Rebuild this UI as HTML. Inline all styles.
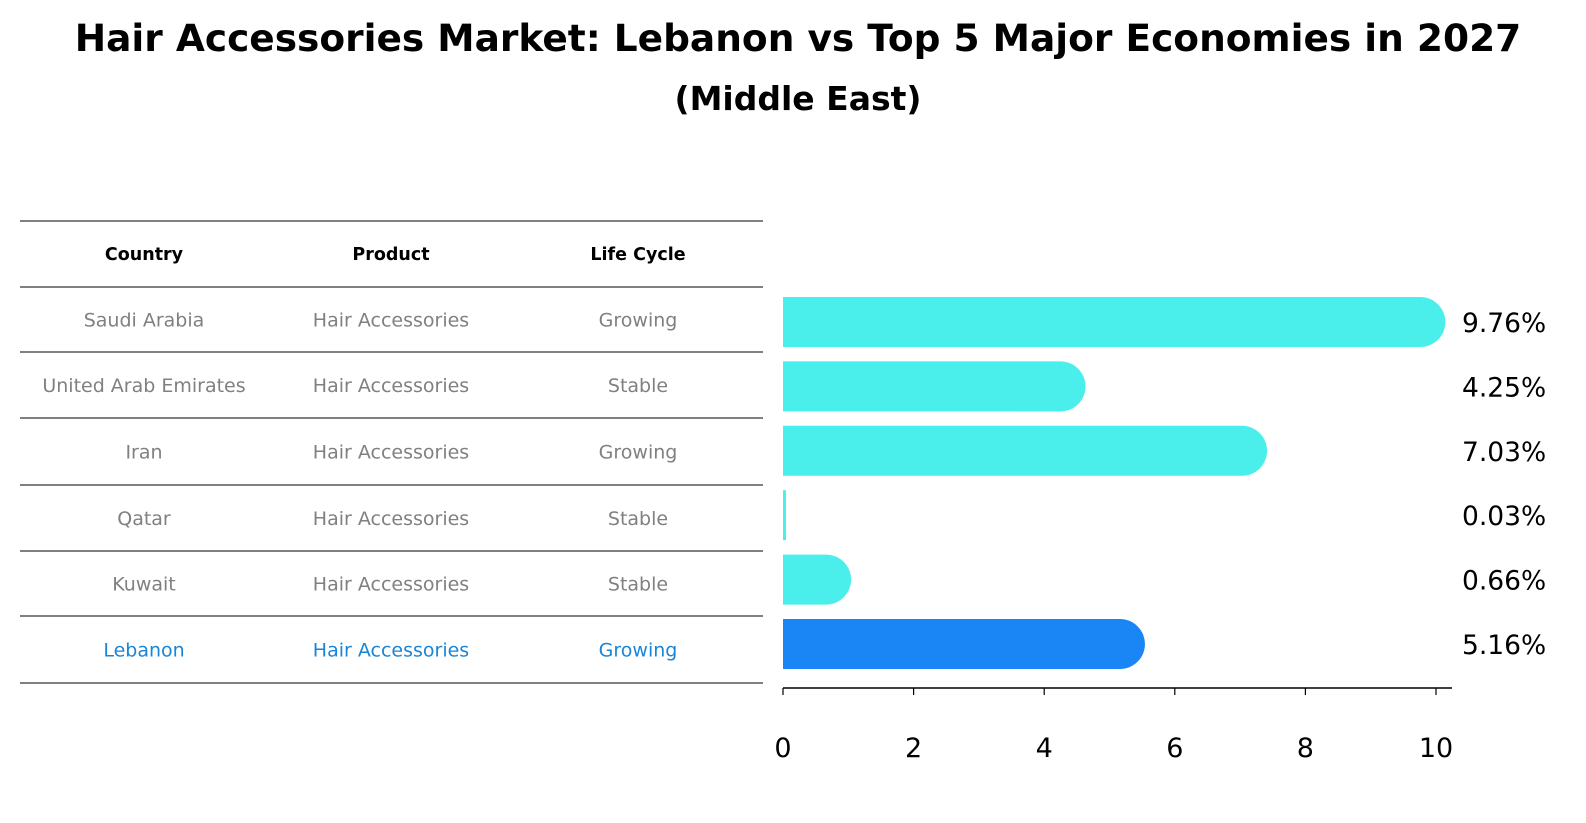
<!DOCTYPE html>
<html><head><meta charset="utf-8"><style>
html,body{margin:0;padding:0;background:#fff;width:1586px;height:823px;overflow:hidden;font-family:"DejaVu Sans","Liberation Sans",sans-serif}
svg{display:block}
</style></head><body>
<svg width="1586" height="823" viewBox="0 0 1586 823" xmlns="http://www.w3.org/2000/svg" font-family="DejaVu Sans, Liberation Sans, sans-serif">
<text x="798" y="51" text-anchor="middle" font-size="37.5" font-weight="bold">Hair Accessories Market: Lebanon vs Top 5 Major Economies in 2027</text>
<text x="798" y="110" text-anchor="middle" font-size="33" font-weight="bold">(Middle East)</text>
<g id="table"></g>
<g id="chart"></g>
</svg>
<script>
const countries=["Saudi Arabia","United Arab Emirates","Iran","Qatar","Kuwait","Lebanon"];
const products=["Hair Accessories","Hair Accessories","Hair Accessories","Hair Accessories","Hair Accessories","Hair Accessories"];
const lifecycle=["Growing","Stable","Growing","Stable","Stable","Growing"];
const values=[9.76,4.25,7.03,0.03,0.66,5.16];
const ticks=[0,2,4,6,8,10];
const NS="http://www.w3.org/2000/svg";
function mk(t,a,p){const e=document.createElementNS(NS,t);for(const k in a)e.setAttribute(k,a[k]);p.appendChild(e);return e;}
const tbl=document.getElementById('table');
const lines=[221,287,352,418,485,551,616,683];
lines.forEach(y=>{const l=mk('line',{x1:20,x2:763,y1:y,y2:y,stroke:'#000','stroke-width':1},tbl);

});
const colX=[144,391,638];
["Country","Product","Life Cycle"].forEach((h,i)=>{const t=mk('text',{x:colX[i],y:260,'text-anchor':'middle','font-size':17.5,'font-weight':'bold'},tbl);t.textContent=h;

});
countries.forEach((c,r)=>{const y=(lines[r+1]+lines[r+2])/2+7;const col=c==="Lebanon"?"#1a85d6":"#808080";
[c,products[r],lifecycle[r]].forEach((v,i)=>{const t=mk('text',{x:colX[i],y:y,'text-anchor':'middle','font-size':19,fill:col},tbl);t.textContent=v;

});});
const ch=document.getElementById('chart');
const x0=783,pxPer=65.3;const X=v=>x0+v*pxPer;
const Y=i=>322+i*64.4;const h=50,rr=25;
values.forEach((v,i)=>{const yc=Y(i);const xe=X(v);const col=countries[i]==="Lebanon"?"#1a85f5":"#4aeeea";
let d;
if(v<0.1){d=`M${x0},${yc-h/2}H${xe+1}V${yc+h/2}H${x0}Z`;}
else d=`M${x0},${yc-h/2}H${xe}A${rr},${rr} 0 0 1 ${xe},${yc+h/2}H${x0}Z`;
const b=mk('path',{d:d,fill:col},ch);


const t=mk('text',{x:1462,y:yc+10,'font-size':26.5},ch);t.textContent=v.toFixed(2)+'%';

});
const ax=mk('line',{x1:x0,x2:1452,y1:688,y2:688,stroke:'#000','stroke-width':1.5},ch);


ticks.forEach(tv=>{const tk=mk('line',{x1:X(tv),x2:X(tv),y1:688,y2:695,stroke:'#000','stroke-width':1.2},ch);


const t=mk('text',{x:X(tv),y:757,'text-anchor':'middle','font-size':27},ch);t.textContent=tv;

});
</script>
</body></html>
